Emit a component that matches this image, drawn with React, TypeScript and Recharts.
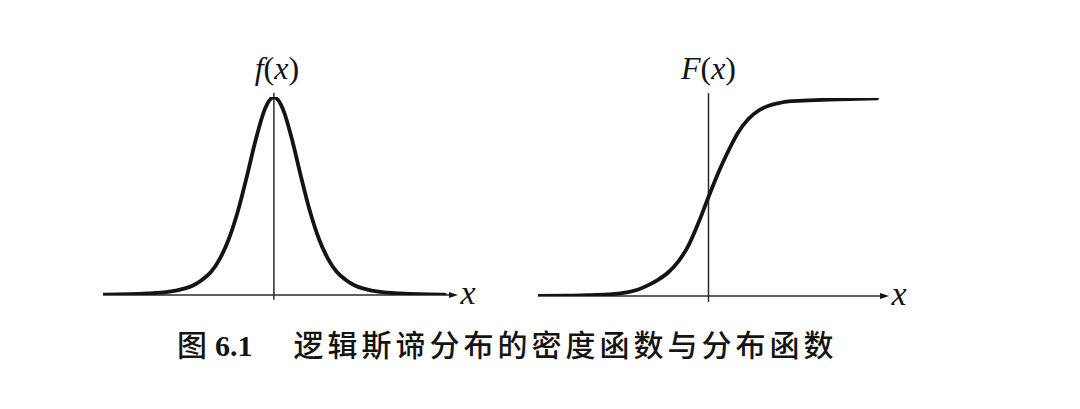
import React from 'react';
import { LineChart, Line, XAxis, YAxis, ReferenceLine, ReferenceDot, Label } from 'recharts';

// logistic density f(x)
const densityX = [-9.5, -8, -7, -6, -5, -4.5, -4, -3.5, -3, -2.5, -2, -1.5, -1, -0.5, 0, 0.5, 1, 1.5, 2, 2.5, 3, 3.5, 4, 4.5, 5, 6, 7, 8, 9.5];
const densityY = [0.0005, 0.001, 0.002, 0.0035, 0.008, 0.012, 0.019, 0.029, 0.046, 0.071, 0.106, 0.15, 0.197, 0.235, 0.25, 0.235, 0.197, 0.15, 0.106, 0.071, 0.046, 0.029, 0.019, 0.012, 0.008, 0.0035, 0.002, 0.001, 0.0005];

// logistic distribution F(x)
const cdfX = [-8.5, -7, -6, -5, -4.5, -4, -3.5, -3, -2.5, -2, -1.5, -1, -0.5, 0, 0.5, 1, 1.5, 2, 2.5, 3, 3.5, 4, 5, 6, 7, 8.4];
const cdfY = [0, 0.002, 0.004, 0.008, 0.012, 0.02, 0.033, 0.055, 0.083, 0.12, 0.175, 0.255, 0.37, 0.5, 0.625, 0.735, 0.83, 0.895, 0.937, 0.961, 0.974, 0.983, 0.988, 0.992, 0.995, 0.998];

const captionFigure = '图';
const captionNumber = '6.1';
const captionText = '逻辑斯谛分布的密度函数与分布函数';

const densityData = densityX.map((x, i) => ({ x, y: densityY[i] }));
const cdfData = cdfX.map((x, i) => ({ x, y: cdfY[i] }));

const INK = '#141414';
const SERIF = "'Liberation Serif', 'DejaVu Serif', serif";

const FuncTitle = ({ viewBox, name, dx = 0 }: any) => {
  const cx = viewBox.x + viewBox.width / 2 + dx;
  return (
    <text x={cx} y={viewBox.y - 14} textAnchor="middle" fontFamily={SERIF} fontSize={32} fill={INK}>
      <tspan fontStyle="italic">{name}</tspan>(<tspan fontStyle="italic">x</tspan>)
    </text>
  );
};

const XName = ({ viewBox }: any) => (
  <text
    x={viewBox.x + viewBox.width + 16}
    y={viewBox.y + 9}
    textAnchor="middle"
    fontFamily={SERIF}
    fontStyle="italic"
    fontSize={34}
    fill={INK}
  >
    x
  </text>
);

const Arrow = ({ cx, cy }: any) => (
  <path d={`M${cx - 3},${cy - 3} L${cx + 6},${cy} L${cx - 3},${cy + 3} Z`} fill={INK} />
);

interface PanelProps {
  data: { x: number; y: number }[];
  left: number;
  width: number;
  margin: { top: number; right: number; bottom: number; left: number };
  xDomain: [number, number];
  yDomain: [number, number];
  yAxisSpan: [number, number];
  name: string;
  titleDx?: number;
}

function Panel({ data, left, width, margin, xDomain, yDomain, yAxisSpan, name, titleDx = 0 }: PanelProps) {
  return (
    <div style={{ position: 'absolute', left, top: 0 }}>
      <LineChart width={width} height={409} data={data} margin={margin}>
        <XAxis type="number" dataKey="x" domain={xDomain} hide allowDataOverflow />
        <YAxis type="number" domain={yDomain} hide allowDataOverflow />
        <ReferenceLine
          segment={[{ x: xDomain[0], y: 0 }, { x: xDomain[1], y: 0 }]}
          stroke="#2a2a2a"
          strokeWidth={1.5}
          ifOverflow="visible"
        >
          <Label content={(p: any) => <XName {...p} />} />
        </ReferenceLine>
        <ReferenceLine
          segment={[{ x: 0, y: yAxisSpan[0] }, { x: 0, y: yAxisSpan[1] }]}
          stroke="#2a2a2a"
          strokeWidth={1.5}
          ifOverflow="visible"
        >
          <Label content={(p: any) => <FuncTitle {...p} name={name} dx={titleDx} />} />
        </ReferenceLine>
        <ReferenceDot x={xDomain[1]} y={0} r={0} ifOverflow="visible" shape={(p: any) => <Arrow {...p} />} />
        <Line
          type="monotone"
          dataKey="y"
          stroke={INK}
          strokeWidth={3.8}
          dot={false}
          activeDot={false}
          isAnimationActive={false}
          strokeLinecap="round"
        />
      </LineChart>
    </div>
  );
}

export default function App() {
  return (
    <div style={{ position: 'absolute', left: 0, top: 0, width: 1080, height: 409, background: '#fff', overflow: 'hidden' }}>
      <Panel
        data={densityData}
        left={0}
        width={540}
        margin={{ top: 97, right: 88, bottom: 114, left: 103 }}
        xDomain={[-9.5, 9.9]}
        yDomain={[0, 0.25]}
        yAxisSpan={[-0.006, 0.2555]}
        name="f"
        titleDx={3}
      />
      <Panel
        data={cdfData}
        left={520}
        width={560}
        margin={{ top: 98, right: 197, bottom: 113, left: 18 }}
        xDomain={[-8.5, 8.7]}
        yDomain={[0, 1]}
        yAxisSpan={[-0.03, 1.025]}
        name="F"
      />
      <div
        style={{
          position: 'absolute',
          left: 177,
          top: 328,
          height: 30,
          lineHeight: '30px',
          fontSize: 30,
          color: INK,
          whiteSpace: 'nowrap',
        }}
      >
        <span style={{ fontFamily: "'Noto Sans CJK SC', sans-serif", fontWeight: 500 }}>{captionFigure}</span>
        <span style={{ fontFamily: SERIF, fontWeight: 700, marginLeft: 8 }}>{captionNumber}</span>
        <span
          style={{
            fontFamily: "'Noto Sans CJK SC', sans-serif",
            fontWeight: 500,
            letterSpacing: 4,
            marginLeft: 41,
          }}
        >
          {captionText}
        </span>
      </div>
    </div>
  );
}
